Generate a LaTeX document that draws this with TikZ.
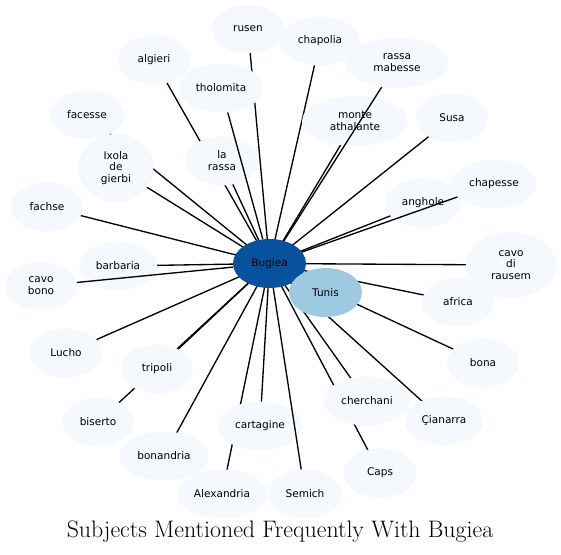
\documentclass[tikz,border=0pt]{standalone}
\usepackage{fontspec}
\newfontfamily\nodefont{DejaVu Sans}
\usetikzlibrary{shapes.geometric,backgrounds}
\definecolor{nodefill}{HTML}{F5F9FE}
\definecolor{centerfill}{HTML}{08519C}
\definecolor{tunisfill}{HTML}{9ECAE1}
\tikzset{
  ent/.style args={#1/#2}{ellipse, fill=nodefill, draw=none, inner sep=0pt,
    minimum width={#1*0.75pt}, minimum height={#2*0.75pt},
    font=\nodefont\fontsize{7.9pt}{8.9pt}\selectfont, align=center, text=black},
  link/.style={draw=black, line width=1pt},
}
\begin{document}
\begin{tikzpicture}[x=0.75pt,y=-0.75pt]
\useasboundingbox (0,0) rectangle (561,554);
% nodes
\node[ent=73/49, fill=centerfill] (bugiea) at (269.5,263.5) {Bugiea};
\node[ent=73/49, fill=tunisfill] (tunis) at (325.5,292.5) {Tunis};
\node[ent=72/48] (rusen) at (248,29) {rusen};
\node[ent=73/49] (algieri) at (154,60) {algieri};
\node[ent=85/49] (tholomita) at (221,88) {tholomita};
\node[ent=74/48] (facesse) at (87,115) {facesse};
\node[ent=75/68] (ixola) at (116,168) {Ixola\\de\\gierbi};
\node[ent=74/49] (larassa) at (222,161) {la\\rassa};
\node[ent=72/49] (fachse) at (47,207) {fachse};
\node[ent=78/48] (barbaria) at (118,266) {barbaria};
\node[ent=72/48] (cavobono) at (41,286) {cavo\\bono};
\node[ent=80/49] (chapolia) at (320,41) {chapolia};
\node[ent=103/50] (rassamabesse) at (397,63) {rassa\\mabesse};
\node[ent=106/50] (monte) at (355,121) {monte\\athalante};
\node[ent=72/49] (susa) at (452,118) {Susa};
\node[ent=85/49] (chapesse) at (494,184) {chapesse};
\node[ent=76/49] (anghole) at (423,203) {anghole};
\node[ent=90/66] (cavodi) at (511,265) {cavo\\di\\rausem};
\node[ent=73/49] (lucho) at (66,353) {Lucho};
\node[ent=72/49] (tripoli) at (157,369) {tripoli};
\node[ent=72/48] (biserto) at (98,422) {biserto};
\node[ent=90/49] (bonandria) at (164,456) {bonandria};
\node[ent=84/49] (cartagine) at (260,426) {cartagine};
\node[ent=90/49] (alexandria) at (222,494) {Alexandria};
\node[ent=72/49] (africa) at (458,302) {africa};
\node[ent=72/49] (bona) at (483,363) {bona};
\node[ent=87/49] (cherchani) at (367,401) {cherchani};
\node[ent=78/49] (cianarra) at (444,421) {Çianarra};
\node[ent=73/49] (caps) at (380,473) {Caps};
\node[ent=74/49] (semich) at (305,494) {Semich};
% edges hidden behind nodes
\begin{scope}[on background layer]
\foreach \t in {rusen,algieri,facesse,ixola,larassa,fachse,barbaria,
  chapolia,monte,susa,anghole,cavodi,lucho,tripoli,biserto,
  bonandria,cartagine,alexandria,africa,bona,cherchani,cianarra,caps}
  \draw[link] (bugiea.center) -- (\t.center);
\end{scope}
% edges drawn over other nodes
\foreach \t in {rassamabesse,chapesse,semich,cavobono,tholomita}
  \draw[link] (bugiea) -- (\t);
% title
\node[font=\fontsize{17.9pt}{21pt}\selectfont] (title) at (280,532) {Subjects Mentioned Frequently With Bugiea};
\end{tikzpicture}
\end{document}
